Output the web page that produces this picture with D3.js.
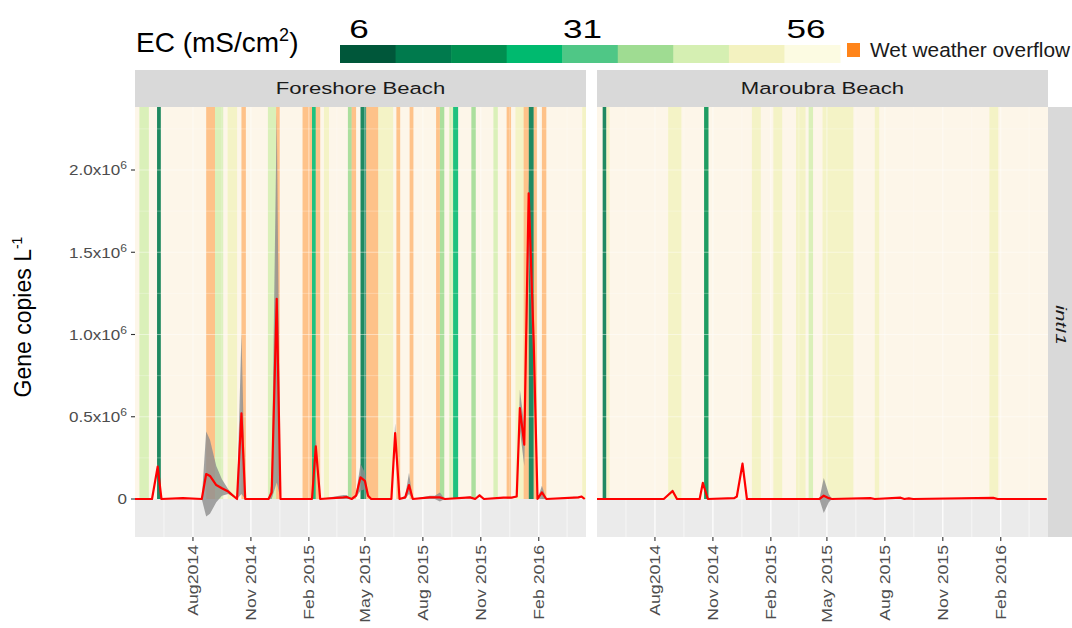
<!DOCTYPE html>
<html>
<head>
<meta charset="utf-8">
<script src="https://cdn.jsdelivr.net/npm/d3@7"></script>
<style>
  body { margin: 0; background: #fff; }
  text { font-family: "Liberation Sans", Arial, sans-serif; }
</style>
</head>
<body>
<svg id="chart" width="1072" height="628"></svg>
<script>
// facet names and gene label
const sites = ["Foreshore Beach", "Maroubra Beach"];
const geneLabel = "intI1";

// EC legend (mS/cm2), 9 classes from 6 to 56
const ecColours = ["#00573a", "#007a4d", "#008f50", "#00ba6f", "#4fc786", "#9fdc92", "#d5efb2", "#f3f2c0", "#fcfbe2"];
const ecTicks = [6, 31, 56];
const overflowLabel = "Wet weather overflow";

// axis ticks
const xTickDates = ["2014-08-01", "2014-11-01", "2015-02-01", "2015-05-01", "2015-08-01", "2015-11-01", "2016-02-01"];
const xTickLabels = ["Aug2014", "Nov 2014", "Feb 2015", "May 2015", "Aug 2015", "Nov 2015", "Feb 2016"];
const yTicks = [0, 0.5e6, 1.0e6, 1.5e6, 2.0e6];

// EC of sampled water: [from, to, EC]
const foreshoreEC = [
  ["2014-05-08", "2014-05-23", 44], ["2014-06-05", "2014-06-11", 12],
  ["2014-09-05", "2014-09-18", 42], ["2014-09-25", "2014-10-10", 50],
  ["2014-11-28", "2014-12-11", 43], ["2015-02-06", "2015-02-12", 26],
  ["2015-02-25", "2015-03-05", 50], ["2015-04-04", "2015-04-10", 37],
  ["2015-04-24", "2015-05-03", 12], ["2015-05-22", "2015-06-15", 50],
  ["2015-08-28", "2015-09-04", 36], ["2015-09-12", "2015-09-18", 44],
  ["2015-09-18", "2015-09-26", 22], ["2015-10-17", "2015-10-24", 35],
  ["2015-11-21", "2015-11-28", 44], ["2015-12-26", "2016-01-08", 50],
  ["2016-01-16", "2016-01-24", 10], ["2016-04-10", "2016-04-16", 50]
];
const maroubraEC = [
  ["2014-05-10", "2014-05-16", 12], ["2014-05-16", "2014-05-21", 50],
  ["2014-08-22", "2014-09-12", 50], ["2014-10-18", "2014-10-25", 20],
  ["2015-01-02", "2015-01-16", 50], ["2015-02-05", "2015-02-19", 50],
  ["2015-03-13", "2015-03-28", 50], ["2015-04-02", "2015-04-09", 44],
  ["2015-04-24", "2015-06-12", 50], ["2015-07-16", "2015-07-23", 50],
  ["2016-01-14", "2016-01-28", 50]
];

// wet weather overflow periods: [from, to]
const foreshoreOverflow = [
  ["2014-08-22", "2014-09-05"], ["2014-10-17", "2014-10-24"], ["2014-12-11", "2014-12-17"],
  ["2015-01-22", "2015-02-06"], ["2015-02-12", "2015-02-19"], ["2015-04-10", "2015-04-17"],
  ["2015-05-03", "2015-05-22"], ["2015-06-20", "2015-06-26"], ["2015-07-11", "2015-07-17"],
  ["2015-08-22", "2015-08-28"], ["2015-12-12", "2015-12-19"], ["2016-01-08", "2016-01-16"],
  ["2016-01-24", "2016-01-29"], ["2016-02-06", "2016-02-13"]
];
const maroubraOverflow = [];

// intI1 gene copies per litre: [date, mean, lower, upper]
const foreshoreGenes = [
  ["2014-05-01", 0, 0, 0], ["2014-05-28", 0, 0, 0], ["2014-06-06", 197000, 170000, 215000],
  ["2014-06-12", 0, 0, 0], ["2014-07-16", 5000, 3000, 7000], ["2014-08-15", 0, 0, 0],
  ["2014-08-22", 152000, -107000, 410000], ["2014-08-28", 140000, -90000, 360000],
  ["2014-09-07", 85000, -20000, 200000], ["2014-09-16", 65000, 20000, 120000],
  ["2014-09-26", 45000, 30000, 60000], ["2014-10-10", 0, 0, 0],
  ["2014-10-17", 520000, 30000, 1010000], ["2014-10-23", 0, 0, 0],
  ["2014-11-29", 0, 0, 0], ["2014-12-04", 40000, 0, 100000],
  ["2014-12-12", 1217000, 100000, 2350000], ["2014-12-18", 0, 0, 0],
  ["2015-02-06", 0, 0, 0], ["2015-02-12", 320000, 260000, 380000], ["2015-02-19", 0, 0, 0],
  ["2015-03-28", 10000, 0, 25000], ["2015-04-02", 12000, 0, 25000], ["2015-04-10", 0, 0, 0],
  ["2015-04-17", 20000, 10000, 30000], ["2015-04-24", 132000, 50000, 215000],
  ["2015-05-01", 110000, 60000, 160000], ["2015-05-06", 20000, 10000, 30000],
  ["2015-05-11", 0, 0, 0], ["2015-06-12", 0, 0, 0], ["2015-06-18", 400000, 340000, 460000],
  ["2015-06-25", 0, 0, 0], ["2015-07-04", 10000, 0, 20000], ["2015-07-10", 85000, 30000, 160000],
  ["2015-07-16", 0, 0, 0], ["2015-08-12", 10000, 0, 20000], ["2015-08-20", 10000, 0, 20000],
  ["2015-08-28", 10000, -15000, 40000], ["2015-09-05", 0, 0, 0], ["2015-10-15", 10000, 5000, 15000],
  ["2015-10-23", 0, 0, 0], ["2015-10-30", 22000, 15000, 30000], ["2015-11-06", 0, 0, 0],
  ["2015-12-07", 8000, 5000, 10000], ["2015-12-20", 8000, 5000, 10000], ["2015-12-28", 15000, 10000, 20000],
  ["2016-01-02", 553000, 420000, 665000], ["2016-01-09", 330000, 200000, 450000],
  ["2016-01-16", 1858000, 1500000, 1950000], ["2016-01-24", 950000, 800000, 1100000],
  ["2016-01-30", 0, 0, 0], ["2016-02-06", 40000, 0, 80000], ["2016-02-13", 0, 0, 0],
  ["2016-04-04", 10000, 5000, 15000], ["2016-04-09", 15000, 10000, 20000], ["2016-04-14", 0, 0, 0]
];
const maroubraGenes = [
  ["2014-05-01", 0, 0, 0], ["2014-08-15", 0, 0, 0], ["2014-08-29", 49000, 40000, 58000],
  ["2014-09-05", 0, 0, 0], ["2014-10-11", 0, 0, 0], ["2014-10-16", 98000, 90000, 105000],
  ["2014-10-24", 0, 0, 0], ["2014-12-05", 5000, 3000, 7000], ["2014-12-09", 15000, 10000, 20000],
  ["2014-12-18", 215000, 205000, 225000], ["2014-12-25", 0, 0, 0], ["2015-04-19", 0, 0, 0],
  ["2015-04-26", 20000, -85000, 128000], ["2015-05-04", 5000, -20000, 30000], ["2015-05-09", 0, 0, 0],
  ["2015-07-09", 5000, 3000, 7000], ["2015-07-16", 0, 0, 0], ["2015-08-26", 8000, 5000, 11000],
  ["2015-09-01", 0, 0, 0], ["2015-09-08", 4000, 2000, 6000], ["2015-09-15", 0, 0, 0],
  ["2016-01-20", 7000, 4000, 10000], ["2016-01-27", 0, 0, 0], ["2016-04-14", 0, 0, 0]
];

const svg = d3.select("#chart");
const parse = d3.timeParse("%Y-%m-%d");

const panelTop = 107, panelBottom = 537, stripTop = 70;
const panels = [
  { name: sites[0], x0: 135, x1: 586, ec: foreshoreEC, wwo: foreshoreOverflow, genes: foreshoreGenes },
  { name: sites[1], x0: 597, x1: 1048, ec: maroubraEC, wwo: maroubraOverflow, genes: maroubraGenes }
];

const xDomain = [parse("2014-05-01"), parse("2016-04-16")];
const y = d3.scaleLinear().domain([-0.231e6, 2.383e6]).range([panelBottom, panelTop]);
const ecColour = d3.scaleQuantize().domain([6 - 3.125, 56 + 3.125]).range(ecColours);
const overflowColour = "#ff8419";

// gridline positions (ggplot style: minor halfway between majors)
const tickDates = xTickDates.map(parse);
const majorExt = [d3.timeMonth.offset(tickDates[0], -3), ...tickDates, d3.timeMonth.offset(tickDates[tickDates.length - 1], 3)];
const yExt = [-0.5e6, ...yTicks, 2.5e6];
const yMinor = d3.pairs(yExt).map(([a, b]) => (a + b) / 2).filter(v => v > y.domain()[0] && v < y.domain()[1]);
const yMajor = yTicks.filter(v => v > 0);

const supFmt = v => v === 0 ? ["0", ""] : [(v / 1e6).toFixed(1) + "x10", "6"];

panels.forEach((p, i) => {
  const x = d3.scaleTime().domain(xDomain).range([p.x0, p.x1]);
  const xMinor = d3.pairs(majorExt).map(([a, b]) => (x(a) + x(b)) / 2).filter(v => v > p.x0 && v < p.x1);
  const xMajor = tickDates.map(x);
  const y0 = y(0);

  const g = svg.append("g");
  const clipId = "clip" + i;
  g.append("clipPath").attr("id", clipId)
    .append("rect").attr("x", p.x0).attr("y", panelTop).attr("width", p.x1 - p.x0).attr("height", panelBottom - panelTop);

  // panel background + grid
  g.append("rect").attr("x", p.x0).attr("y", panelTop).attr("width", p.x1 - p.x0).attr("height", panelBottom - panelTop).attr("fill", "#ebebeb");
  g.selectAll(".vminor").data(xMinor).join("line")
    .attr("x1", d => d).attr("x2", d => d).attr("y1", panelTop).attr("y2", panelBottom)
    .attr("stroke", "#fff").attr("stroke-width", 0.6);
  g.selectAll(".vmajor").data(xMajor).join("line")
    .attr("x1", d => d).attr("x2", d => d).attr("y1", panelTop).attr("y2", panelBottom)
    .attr("stroke", "#fff").attr("stroke-width", 1.2);

  // EC background and bands (from 0 to top)
  const bands = g.append("g").attr("clip-path", `url(#${clipId})`);
  bands.append("rect").attr("x", p.x0).attr("y", panelTop).attr("width", p.x1 - p.x0).attr("height", y0 - panelTop)
    .attr("fill", "#fdf6e9");
  bands.selectAll(".ec").data(p.ec).join("rect")
    .attr("x", d => x(parse(d[0]))).attr("width", d => x(parse(d[1])) - x(parse(d[0])))
    .attr("y", panelTop).attr("height", y0 - panelTop)
    .attr("fill", d => ecColour(d[2])).attr("fill-opacity", 0.88);
  bands.selectAll(".wwo").data(p.wwo).join("rect")
    .attr("x", d => x(parse(d[0]))).attr("width", d => x(parse(d[1])) - x(parse(d[0])))
    .attr("y", panelTop).attr("height", y0 - panelTop)
    .attr("fill", overflowColour).attr("fill-opacity", 0.46);

  // faint grid showing through the bands
  const faint = bands.append("g").attr("stroke", "#fff").attr("stroke-opacity", 0.45);
  faint.selectAll(".hm").data(yMinor).join("line")
    .attr("x1", p.x0).attr("x2", p.x1).attr("y1", d => y(d)).attr("y2", d => y(d)).attr("stroke-width", 0.6);
  faint.selectAll(".hM").data(yMajor).join("line")
    .attr("x1", p.x0).attr("x2", p.x1).attr("y1", d => y(d)).attr("y2", d => y(d)).attr("stroke-width", 1.2);
  faint.selectAll(".vm").data(xMinor).join("line")
    .attr("x1", d => d).attr("x2", d => d).attr("y1", panelTop).attr("y2", y0).attr("stroke-width", 0.6);
  faint.selectAll(".vM").data(xMajor).join("line")
    .attr("x1", d => d).attr("x2", d => d).attr("y1", panelTop).attr("y2", y0).attr("stroke-width", 1.2);

  // ribbon + mean line
  const genes = p.genes.map(d => ({ date: parse(d[0]), mean: d[1], lo: d[2], hi: d[3] }));
  const plot = g.append("g").attr("clip-path", `url(#${clipId})`);
  plot.append("path").datum(genes)
    .attr("d", d3.area().x(d => x(d.date)).y0(d => y(d.lo)).y1(d => y(d.hi)))
    .attr("fill", "#8f8f8f").attr("fill-opacity", 0.82);
  plot.append("path").datum(genes)
    .attr("d", d3.line().x(d => x(d.date)).y(d => y(d.mean)))
    .attr("fill", "none").attr("stroke", "#ff0000").attr("stroke-width", 2.2).attr("stroke-linejoin", "round");

  // facet strip
  g.append("rect").attr("x", p.x0).attr("y", stripTop).attr("width", p.x1 - p.x0).attr("height", panelTop - stripTop).attr("fill", "#d9d9d9");
  g.append("text").attr("transform", `translate(${(p.x0 + p.x1) / 2},${(stripTop + panelTop) / 2}) scale(1.3,1)`)
    .attr("text-anchor", "middle").attr("dy", "0.35em").attr("font-size", 17).attr("fill", "#1a1a1a").text(p.name);

  // x axis
  const xa = g.append("g");
  xa.selectAll("line").data(tickDates).join("line")
    .attr("x1", d => x(d)).attr("x2", d => x(d)).attr("y1", panelBottom).attr("y2", panelBottom + 4)
    .attr("stroke", "#333").attr("stroke-width", 1.1);
  xa.selectAll("text").data(tickDates).join("text")
    .attr("transform", d => `translate(${x(d)},${panelBottom + 8}) rotate(-90) scale(1.18,1)`)
    .attr("text-anchor", "end").attr("dy", "0.35em").attr("font-size", 15).attr("fill", "#4d4d4d")
    .text((d, j) => xTickLabels[j]);
});

// y axis on the first panel
const ya = svg.append("g");
ya.selectAll("line").data(yTicks).join("line")
  .attr("x1", panels[0].x0 - 4).attr("x2", panels[0].x0).attr("y1", d => y(d)).attr("y2", d => y(d))
  .attr("stroke", "#333").attr("stroke-width", 1.1);
const yl = ya.selectAll("text").data(yTicks).join("text")
  .attr("transform", d => `translate(${panels[0].x0 - 8},${y(d)}) scale(1.1,1)`).attr("dy", "0.35em")
  .attr("text-anchor", "end").attr("font-size", 15.5).attr("fill", "#4d4d4d");
yl.append("tspan").text(d => supFmt(d)[0]);
yl.append("tspan").attr("dy", "-0.55em").attr("font-size", 11).text(d => supFmt(d)[1]);

// y axis title
const yt = svg.append("text").attr("transform", "translate(31,317) rotate(-90)")
  .attr("text-anchor", "middle").attr("font-size", 23).attr("fill", "#000");
yt.append("tspan").text("Gene copies L");
yt.append("tspan").attr("dy", -9).attr("font-size", 14).text("-1");

// right strip with gene name
svg.append("rect").attr("x", panels[1].x1).attr("y", panelTop).attr("width", 30).attr("height", panelBottom - panelTop).attr("fill", "#d9d9d9");
svg.append("text").attr("transform", `translate(${panels[1].x1 + 13},${325}) rotate(90) scale(1.4,1)`)
  .attr("text-anchor", "middle").attr("dy", "0.35em").attr("font-size", 15).attr("font-style", "italic")
  .attr("fill", "#1a1a1a").text(geneLabel);

// legend: EC colour bar
const leg = svg.append("g");
const lt = leg.append("text").attr("x", 136).attr("y", 52).attr("font-size", 28).attr("fill", "#000");
lt.append("tspan").text("EC (mS/cm");
lt.append("tspan").attr("dy", -11).attr("font-size", 18).text("2");
lt.append("tspan").attr("dy", 11).text(")");

const cb = d3.scaleBand().domain(d3.range(ecColours.length)).range([340, 840]);
leg.selectAll(".cb").data(ecColours).join("rect")
  .attr("x", (d, j) => cb(j)).attr("y", 45).attr("width", cb.bandwidth() + 0.5).attr("height", 18)
  .attr("fill", d => d);
const cbLab = d3.scaleLinear().domain([ecTicks[0], ecTicks[ecTicks.length - 1]]).range([359, 806]);
leg.selectAll(".cbl").data(ecTicks).join("text")
  .attr("transform", d => `translate(${cbLab(d)},38) scale(1.35,1)`)
  .attr("text-anchor", "middle").attr("font-size", 26).attr("fill", "#000").text(d => d);

leg.append("rect").attr("x", 847).attr("y", 43).attr("width", 13).attr("height", 14).attr("fill", overflowColour);
leg.append("text").attr("transform", "translate(870,57) scale(1.07,1)").attr("font-size", 19.5).attr("fill", "#1a1a1a").text(overflowLabel);
</script>
</body>
</html>
